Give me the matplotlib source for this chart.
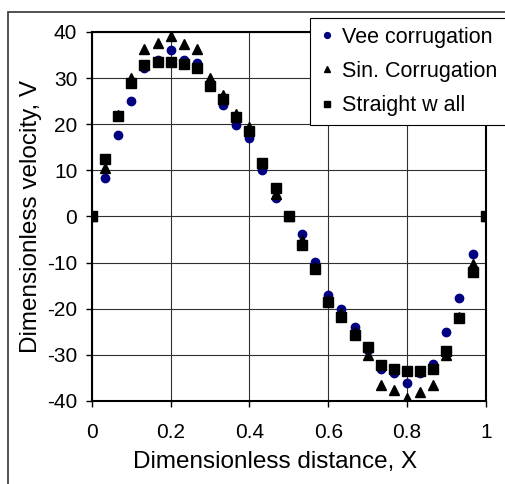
import matplotlib
matplotlib.use("Agg")
import matplotlib.pyplot as plt
from matplotlib.patches import Rectangle

plt.rcParams['font.family'] = ['Liberation Sans', 'DejaVu Sans']
plt.rcParams['axes.unicode_minus'] = False

# x positions (31 points, 1/30 step)
x_pos = [0, 0.033, 0.067, 0.1, 0.133, 0.167, 0.2, 0.233, 0.267, 0.3,
         0.333, 0.367, 0.4, 0.433, 0.467, 0.5, 0.533, 0.567, 0.6, 0.633,
         0.667, 0.7, 0.733, 0.767, 0.8, 0.833, 0.867, 0.9, 0.933, 0.967, 1.0]

vee = [0, 8.4, 17.6, 25.0, 32.1, 34.0, 36.0, 34.0, 33.3, 29.0,
       24.2, 19.9, 17.1, 10.1, 4.0, 0, -3.9, -9.8, -17.1, -20.1,
       -24.0, -29.0, -33.1, -34.0, -36.2, -34.0, -32.0, -25.1, -17.6, -8.2, 0]

sin_corr = [0, 10.5, 22.0, 30.0, 36.4, 37.7, 39.1, 37.3, 36.4, 30.0,
            26.3, 22.2, 19.3, 11.5, 4.8, 0, -5.0, -11.0, -18.0, -21.0,
            -25.0, -30.0, -36.6, -37.7, -39.3, -38.0, -36.6, -30.0, -21.8, -10.3, 0]

straight = [0, 12.4, 21.8, 29.0, 32.8, 33.4, 33.4, 33.0, 32.2, 28.3,
            25.4, 21.6, 18.5, 11.5, 6.2, 0, -6.1, -11.4, -18.5, -21.8,
            -25.8, -28.2, -32.2, -33.0, -33.5, -33.5, -33.0, -29.1, -22.0, -12.1, 0]

fig = plt.figure(figsize=(5.05, 4.84), dpi=100)
ax = fig.add_axes([0.182, 0.1715, 0.78, 0.7625])

ax.plot(x_pos, vee, 'o', color='#000080', markersize=6, label='Vee corrugation', zorder=3)
ax.plot(x_pos, sin_corr, '^', color='black', markersize=7, label='Sin. Corrugation', zorder=4)
ax.plot(x_pos, straight, 's', color='black', markersize=6.5, label='Straight w all', zorder=5)

ax.set_xlim(0, 1)
ax.set_ylim(-40, 40)
ax.set_xticks([0, 0.2, 0.4, 0.6, 0.8, 1])
ax.set_xticklabels(['0', '0.2', '0.4', '0.6', '0.8', '1'])
ax.set_yticks(range(-40, 41, 10))
ax.grid(True, color='#303030', linewidth=0.8)
ax.tick_params(direction='out', length=4.5, width=1, labelsize=15)
ax.tick_params(axis='y', pad=6)
ax.tick_params(axis='x', pad=11)
for s in ax.spines.values():
    s.set_linewidth(1.5)

ax.set_xlabel('Dimensionless distance, X', fontsize=17.5)
ax.xaxis.set_label_coords(0.466, -0.135)
ax.set_ylabel('Dimensionless velocity, V', fontsize=17.5, labelpad=4)

leg = fig.legend(loc='upper left', bbox_to_anchor=(310 / 505, 1 - 18 / 484),
                 bbox_transform=fig.transFigure, fontsize=15.5,
                 frameon=True, fancybox=False, framealpha=1, edgecolor='black',
                 handletextpad=0.3, handlelength=0.8, borderpad=0.4,
                 labelspacing=0.62, borderaxespad=0, markerscale=0.7)
leg.get_frame().set_linewidth(0.8)

# outer chart frame
fig.add_artist(Rectangle((8 / 505, -0.1), 1.2, 1.1 - 12 / 484,
                         transform=fig.transFigure, fill=False,
                         edgecolor='#333333', linewidth=1.2))

fig.savefig('out.png', dpi=100)
